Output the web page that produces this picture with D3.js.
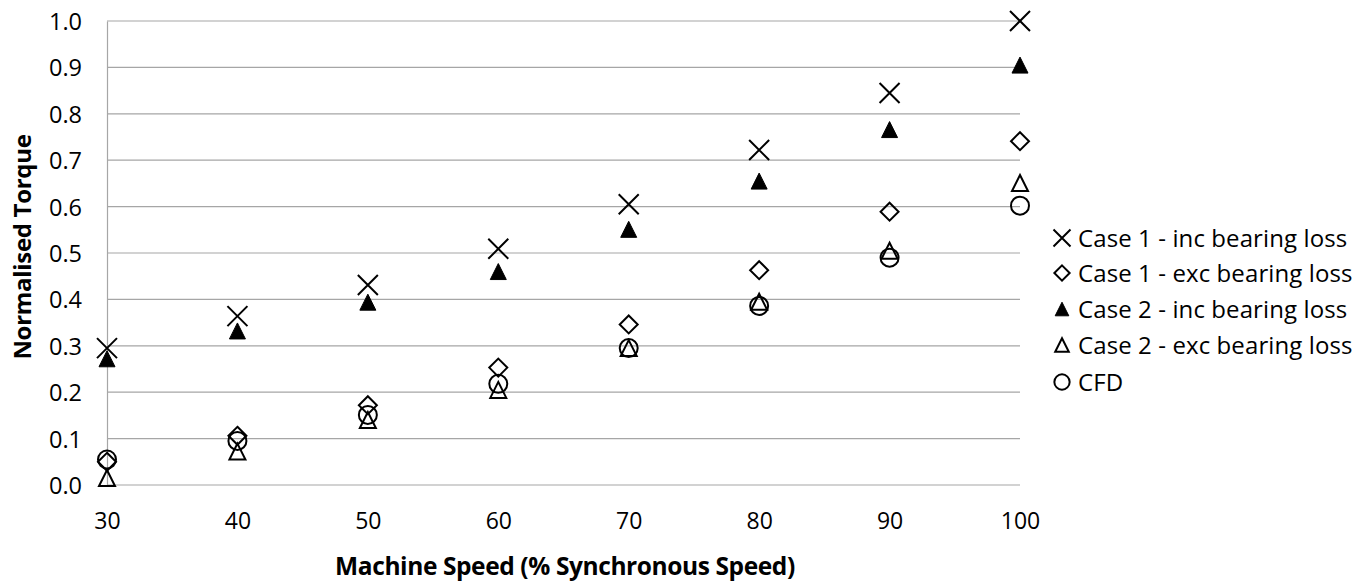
<!DOCTYPE html>
<html>
<head>
<meta charset="utf-8">
<script src="https://cdn.jsdelivr.net/npm/d3@7"></script>
<style>
  html, body { margin: 0; padding: 0; background: #fff; }
  svg text { font-family: "Open Sans", "Noto Sans", sans-serif; fill: #000; }
</style>
</head>
<body>
<svg id="chart" width="1370" height="583"></svg>
<script>
const categories = ["30", "40", "50", "60", "70", "80", "90", "100"];
const yTicks = [0, 0.1, 0.2, 0.3, 0.4, 0.5, 0.6, 0.7, 0.8, 0.9, 1.0];

const case1Inc = [0.295, 0.364, 0.431, 0.509, 0.605, 0.722, 0.845, 1.0];
const case1Exc = [0.05, 0.106, 0.172, 0.253, 0.346, 0.463, 0.589, 0.741];
const case2Inc = [0.272, 0.332, 0.394, 0.460, 0.551, 0.655, 0.766, 0.905];
const case2Exc = [0.015, 0.072, 0.140, 0.205, 0.295, 0.395, 0.505, 0.651];
const cfd      = [0.055, 0.095, 0.151, 0.218, 0.295, 0.386, 0.490, 0.602];

const seriesNames = ["Case 1 - inc bearing loss", "Case 1 - exc bearing loss",
  "Case 2 - inc bearing loss", "Case 2 - exc bearing loss", "CFD"];
const seriesValues = [case1Inc, case1Exc, case2Inc, case2Exc, cfd];
const seriesMarkers = ["times", "diamond", "triFill", "triOpen", "circle"];

const svg = d3.select("#chart");
const plotL = 107, plotR = 1020, plotT = 21, plotB = 485;

const x = d3.scalePoint().domain(categories).range([plotL, plotR]);
const y = d3.scaleLinear().domain([0, 1]).range([plotB, plotT]);

// gridlines
const grid = svg.append("g");
grid.selectAll("line").data(yTicks).join("line")
  .attr("x1", plotL).attr("x2", plotR)
  .attr("y1", d => y(d)).attr("y2", d => y(d))
  .attr("stroke", "#a6a6a6").attr("stroke-width", 1.2);

// y axis
const yAxis = d3.axisLeft(y).tickValues(yTicks).tickFormat(d3.format(".1f")).tickSize(0).tickPadding(25);
const gy = svg.append("g").attr("transform", `translate(${plotL},0)`).call(yAxis);
gy.select(".domain").attr("stroke", "#a6a6a6").attr("stroke-width", 1.2);
gy.selectAll("text").style("font-size", "23.5px").attr("dy", "0.36em");

// x axis
const xAxis = d3.axisBottom(x).tickSize(0).tickPadding(28);
const gx = svg.append("g").attr("transform", `translate(0,${plotB})`).call(xAxis);
gx.select(".domain").remove();
gx.selectAll("text").style("font-size", "23px");

// titles
svg.append("text").attr("x", 565).attr("y", 575).attr("text-anchor", "middle")
  .style("font-size", "24.5px").style("font-weight", "bold").style("letter-spacing", "-0.4px")
  .text("Machine Speed (% Synchronous Speed)");
svg.append("text").attr("transform", "translate(31,247) rotate(-90)").attr("text-anchor", "middle")
  .style("font-size", "24px").style("font-weight", "bold").style("letter-spacing", "-0.3px")
  .text("Normalised Torque");

function drawMarker(g, type, cx, cy, s) {
  const k = s || 1;
  if (type === "times") {
    const h = 10 * k;
    g.append("path").attr("d", `M${cx-h},${cy-h}L${cx+h},${cy+h}M${cx-h},${cy+h}L${cx+h},${cy-h}`)
      .attr("stroke", "#000").attr("stroke-width", 2).attr("fill", "none");
  } else if (type === "diamond") {
    const h = 9 * k;
    g.append("path").attr("d", `M${cx},${cy-h}L${cx+h},${cy}L${cx},${cy+h}L${cx-h},${cy}Z`)
      .attr("stroke", "#000").attr("stroke-width", 2).attr("fill", "none");
  } else if (type === "triFill" || type === "triOpen") {
    const w = 8 * k, hh = 8 * k;
    g.append("path").attr("d", `M${cx},${cy-hh}L${cx+w},${cy+hh}L${cx-w},${cy+hh}Z`)
      .attr("stroke", "#000").attr("stroke-width", type === "triFill" ? 1 : 2)
      .attr("fill", type === "triFill" ? "#000" : "none");
  } else if (type === "circle") {
    g.append("circle").attr("cx", cx).attr("cy", cy).attr("r", 9 * k)
      .attr("stroke", "#000").attr("stroke-width", 2).attr("fill", "none");
  }
}

const marks = svg.append("g");
seriesValues.forEach((vals, si) => {
  vals.forEach((v, i) => {
    drawMarker(marks, seriesMarkers[si], x(categories[i]), y(v));
  });
});

// legend
const legendY = [238, 273, 309, 345, 382];
const lg = svg.append("g");
seriesNames.forEach((name, i) => {
  drawMarker(lg, seriesMarkers[i], 1062, legendY[i], 0.85);
  lg.append("text").attr("x", 1078).attr("y", legendY[i]).attr("dy", "0.36em")
    .style("font-size", "24px").style("letter-spacing", "0.1px").text(name);
});
</script>
</body>
</html>
